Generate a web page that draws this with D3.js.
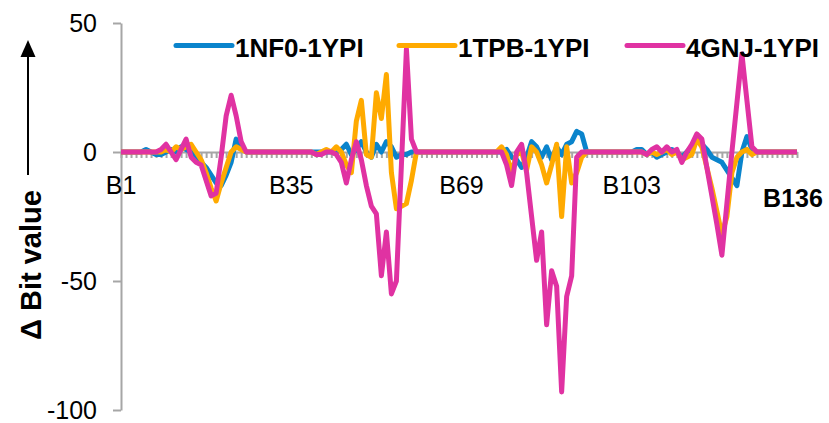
<!DOCTYPE html>
<html lang="en">
<head>
<meta charset="UTF-8">
<title>Bit value differences</title>
<style>
    body { margin: 0; background: #fff; }
    svg { display: block; font-family: Arial, "Liberation Sans", sans-serif; }
    .axis path, .axis line { stroke: #a6a6a6; stroke-width: 2px; }
    .axis text { font-size: 25px; fill: #000; }
    .series { fill: none; stroke-width: 5px; stroke-linejoin: round; }
    .legend text { font-size: 26px; font-weight: bold; }
</style>
</head>
<body>
<svg id="chart"></svg>
<script src="https://d3js.org/d3.v7.min.js"></script>
<script>
    // categories B1 .. B136
    const categories = d3.range(1, 137).map(i => "B" + i);
    const tickLabels = ["B1", "B35", "B69", "B103"];
    const lastLabel = "B136";
    const yTicks = [50, 0, -50, -100];

    const seriesNames = ["1NF0-1YPI", "1TPB-1YPI", "4GNJ-1YPI"];
    const seriesColors = ["#0a84cc", "#ffaa00", "#e032a2"];

    // values, one per category
    const nf0 = [
        0, 0, 0, 0, 0, 1, 0, -1, -1, 0,
        1, 0, 2, 1, 0, -2, -4, -6, -9, -12,
        -13, -9, -4, 5, 2, 0, 0, 0, 0, 0,
        0, 0, 0, 0, 0, 0, 0, 0, 0, 0,
        0, 0, 0, 0, 1, 3, -1, 1, 4, 0,
        -2, 3, 0, 4, 2, -2, -1, -1, 0, 0,
        0, 0, 0, 0, 0, 0, 0, 0, 0, 0,
        0, 0, 0, 0, 0, 0, 0, 1, -2, -3,
        -6, -2, 4, 2, -2, 2, -3, 2, -1, 3,
        4, 8, 7, 0, 0, 0, 0, 0, 0, 0,
        0, 0, 0, 1, 1, -1, 0, -2, -1, 0,
        1, 0, -2, 0, 2, 5, 3, 1, -2, -3,
        -4, -7, -10, -13, 0, 6, 1, 0, 0, 0,
        0, 0, 0, 0, 0, 0
    ];
    const tpb = [
        0, 0, 0, 0, 0, 0, 0, 0, 0, 1,
        0, 2, 1, 2, 3, 0, -3, -8, -14, -19,
        -12, -6, 0, 2, 1, 0, 0, 0, 0, 0,
        0, 0, 0, 0, 0, 0, 0, 0, 0, -1,
        0, 1, 0, 2, 0, -5, -8, 12, 20, -1,
        -2, 23, 13, 30, -8, -22, -21, -20, -11, 0,
        0, 0, 0, 0, 0, 0, 0, 0, 0, 0,
        0, 0, 0, 0, 0, 0, 2, -1, -8, -1,
        0, -7, 2, 0, -5, -12, -5, 3, -25, 2,
        -12, -8, -2, 0, 0, 0, 0, 0, 0, 0,
        0, 0, 0, 0, 0, -1, 0, -1, 0, 1,
        -1, 0, -3, -2, -1, 5, 2, -6, -14, -23,
        -32, -25, -8, -2, 0, 1, -1, 0, 0, 0,
        0, 0, 0, 0, 0, 0
    ];
    const gnj = [
        0, 0, 0, 0, 0, 0, 0, 0, 1, 3,
        0, -3, 1, 5, -2, -4, -5, -11, -17, -16,
        -2, 14, 22, 14, 4, 0, 0, 0, 0, 0,
        0, 0, 0, 0, 0, 0, 0, 0, 0, -1,
        -1, 0, 0, -1, -4, -12, -3, 4, -3, -13,
        -21, -24, -48, -31, -55, -50, -5, 40, 5, 0,
        0, 0, 0, 0, 0, 0, 0, 0, 0, 0,
        0, 0, 0, 0, 0, 0, 0, -5, -13, 0,
        3, -8, -25, -42, -31, -67, -46, -52, -93, -56,
        -48, -2, 0, 0, 0, 0, 0, 0, 0, 0,
        0, 0, 0, 0, 0, -1, 1, 2, 0, 2,
        0, 1, -4, 0, 3, 7, 5, -6, -17, -28,
        -40, -20, 0, 19, 38, 20, 2, 0, 0, 0,
        0, 0, 0, 0, 0, 0
    ];
    const seriesValues = [nf0, tpb, gnj];

    const width = 829, height = 423;
    const svg = d3.select("#chart").attr("width", width).attr("height", height);

    const x = d3.scalePoint().domain(categories).range([121, 797]);
    const y = d3.scaleLinear().domain([-100, 50]).range([410, 23]);

    // y axis (plain hyphen for negatives, like the original)
    const yAxis = svg.append("g")
        .attr("class", "axis")
        .attr("transform", "translate(121,0)")
        .call(d3.axisLeft(y).tickValues(yTicks).tickSize(8).tickSizeOuter(0)
            .tickPadding(16).tickFormat(d => String(d)));
    yAxis.selectAll("text").attr("dy", "0.35em");

    // x axis through zero, with a small tick at every category
    svg.append("g")
        .attr("class", "axis")
        .attr("transform", `translate(0,${y(0)})`)
        .call(d3.axisBottom(x).tickSize(6).tickSizeOuter(0).tickFormat(""))
        .selectAll(".tick line").attr("stroke-width", 1.5);

    svg.append("g").selectAll("text")
        .data(tickLabels)
        .join("text")
        .attr("x", d => x(d))
        .attr("y", 194)
        .attr("text-anchor", "middle")
        .attr("font-size", 25)
        .text(d => d);

    svg.append("text")
        .attr("x", x(lastLabel) - 4)
        .attr("y", 207)
        .attr("text-anchor", "middle")
        .attr("font-size", 25)
        .attr("font-weight", "bold")
        .text(lastLabel);

    // series lines
    const line = d3.line()
        .x((d, i) => x(categories[i]))
        .y(d => y(d));

    svg.append("g").selectAll("path")
        .data(seriesValues)
        .join("path")
        .attr("class", "series")
        .attr("stroke", (d, i) => seriesColors[i])
        .attr("d", line);

    // legend
    const legendX = [176, 399, 627];
    const legend = svg.append("g").attr("class", "legend");
    seriesNames.forEach((name, i) => {
        legend.append("line")
            .attr("x1", legendX[i]).attr("x2", legendX[i] + 56)
            .attr("y1", 45.5).attr("y2", 45.5)
            .attr("stroke", seriesColors[i])
            .attr("stroke-width", 5)
            .attr("stroke-linecap", "round");
        legend.append("text")
            .attr("x", legendX[i] + 59)
            .attr("y", 57)
            .text(name);
    });

    // y label with arrow
    svg.append("text")
        .attr("transform", "translate(41,265) rotate(-90)")
        .attr("text-anchor", "middle")
        .attr("font-size", 29)
        .attr("font-weight", "bold")
        .text("\u0394 Bit value");

    svg.append("line")
        .attr("x1", 28).attr("x2", 28)
        .attr("y1", 175).attr("y2", 55)
        .attr("stroke", "#000").attr("stroke-width", 2);
    svg.append("path")
        .attr("d", "M28,40 L20.5,57 L35.5,57 Z")
        .attr("fill", "#000");
</script>
</body>
</html>
